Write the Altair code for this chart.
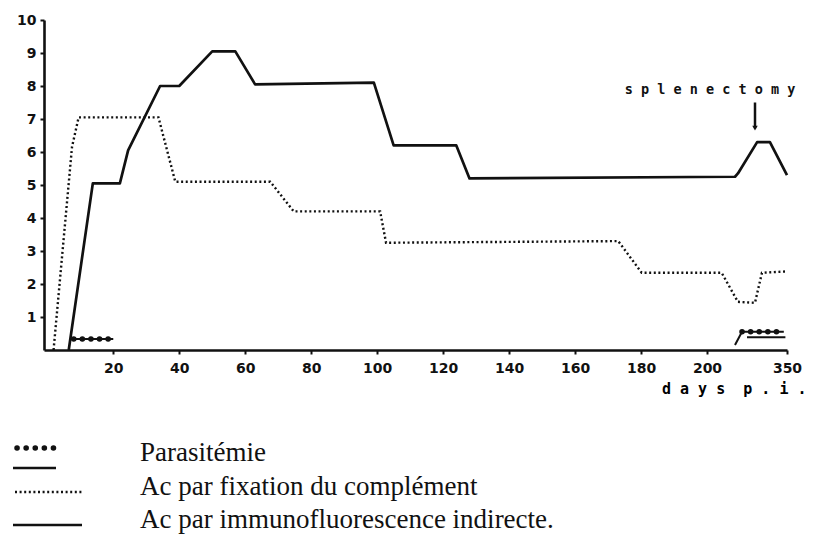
import altair as alt
import pandas as pd

# ---- data ----
if_days = [6.5, 13.8, 22, 24.5, 34.2, 40, 50, 57, 63, 99, 105, 124, 128, 252.5, 258, 294, 318, 350]
if_vals = [0, 5.05, 5.05, 6.05, 8.0, 8.0, 9.05, 9.05, 8.05, 8.1, 6.2, 6.2, 5.2, 5.25, 5.35, 6.3, 6.3, 5.3]

cf_days = [1.9, 7.5, 9.5, 33.7, 38.8, 67.6, 74.7, 100.9, 102.7, 173.1, 180.2, 227.5, 258, 290, 303, 350]
cf_vals = [0, 6.16, 7.05, 7.05, 5.1, 5.1, 4.2, 4.2, 3.25, 3.3, 2.34, 2.34, 1.46, 1.43, 2.34, 2.38]

para1_days = [8, 20]
para1_vals = [0.33, 0.33]
para2_days = [252.5, 265.6, 344]
para2_vals = [0.15, 0.55, 0.55]
para_under_days = [275, 347]
para_under_vals = [0.39, 0.39]

x_ticks = [20, 40, 60, 80, 100, 120, 140, 160, 180, 200, 350]
y_ticks = [1, 2, 3, 4, 5, 6, 7, 8, 9, 10]

splenectomy_day = 290
splenectomy_arrow = [7.5, 6.72]

legend_labels = ["Parasitémie", "Ac par fixation du complément", "Ac par immunofluorescence indirecte."]

# ---- tables ----
df_if = pd.DataFrame({"day": if_days, "value": if_vals})
df_cf = pd.DataFrame({"day": cf_days, "value": cf_vals})
df_para = pd.concat([
    pd.DataFrame({"day": para1_days, "value": para1_vals, "seg": "a"}),
    pd.DataFrame({"day": para2_days, "value": para2_vals, "seg": "b"}),
    pd.DataFrame({"day": para_under_days, "value": para_under_vals, "seg": "c"}),
])
df_beads = pd.concat([
    pd.DataFrame({"day": para1_days, "value": para1_vals, "seg": "a"}),
    pd.DataFrame({"day": para2_days[1:], "value": para2_vals[1:], "seg": "b"}),
])
df_splen = pd.DataFrame({"day": [splenectomy_day], "value": [splenectomy_arrow[0]],
                         "tip": [splenectomy_arrow[1]], "label": ["s p l e n e c t o m y"]})
df_tip = pd.DataFrame({"day": [splenectomy_day], "value": [splenectomy_arrow[1]]})

W, H = 745, 330
xscale = alt.Scale(domain=[-1, 200, 350], range=[0, 663, 743], nice=False, zero=False)
yscale = alt.Scale(domain=[0, 10], nice=False, zero=False)

X = alt.X("day:Q", scale=xscale,
          axis=alt.Axis(values=x_ticks, format="d", tickSize=4, labelPadding=7,
                        labelFlush=False, labelOverlap=False,
                        title="d a y s \u00a0p . i .", titleX=762, titleY=38,
                        titleAlign="right", titleBaseline="middle",
                        titleFont="DejaVu Sans Mono", titleFontSize=15,
                        titleFontWeight="bold", titleColor="black"))
Y = alt.Y("value:Q", scale=yscale,
          axis=alt.Axis(values=y_ticks, format="d", tickSize=4, labelPadding=4,
                        labelOverlap=False, labelFlush=False, title=None))

ink = "#111111"

solid = alt.Chart(df_if).mark_line(color=ink, strokeWidth=2.7, strokeJoin="round").encode(x=X, y=Y)
dotted = alt.Chart(df_cf).mark_line(color=ink, strokeWidth=2.4, strokeDash=[2, 2.6]).encode(x=X, y=Y)
para_line = alt.Chart(df_para).mark_line(color=ink, strokeWidth=2).encode(x=X, y=Y, detail="seg:N")
para_beads = alt.Chart(df_beads).mark_line(color=ink, strokeWidth=5.5, strokeDash=[0.1, 8.5],
                                           strokeCap="round").encode(x=X, y=Y, detail="seg:N")

arrow = alt.Chart(df_splen).mark_rule(color=ink, strokeWidth=2.5).encode(x=X, y=Y, y2="tip:Q")
arrow_head = alt.Chart(df_tip).mark_point(shape="triangle-down", filled=True, color=ink,
                                          size=30, opacity=1).encode(x=X, y=Y)
splen_text = alt.Chart(df_splen).mark_text(font="DejaVu Sans Mono", fontWeight="bold",
                                           fontSize=13.5, color=ink, dx=-45, dy=-13,
                                           align="center", baseline="middle").encode(
    x=X, y=Y, text="label:N")

# ---- manual legend below the plot ----
legend_layers = []
lx_text = 96
rows_y = [441, 475, 508]
legend_layers.append(alt.Chart(df_splen).mark_rule(color=ink, strokeWidth=5.5, strokeDash=[0.1, 9],
                                                   strokeCap="round").encode(
    x=alt.value(-27), x2=alt.value(16), y=alt.value(428)))
legend_layers.append(alt.Chart(df_splen).mark_rule(color=ink, strokeWidth=2.5).encode(
    x=alt.value(-31), x2=alt.value(12), y=alt.value(448)))
legend_layers.append(alt.Chart(df_splen).mark_rule(color=ink, strokeWidth=2.4, strokeDash=[2, 2.6]).encode(
    x=alt.value(-29), x2=alt.value(38), y=alt.value(472)))
legend_layers.append(alt.Chart(df_splen).mark_rule(color=ink, strokeWidth=2.7).encode(
    x=alt.value(-31), x2=alt.value(38), y=alt.value(505)))
for lab, yy in zip(legend_labels, rows_y):
    legend_layers.append(alt.Chart(df_splen).mark_text(font="Liberation Serif", fontSize=27, color=ink,
                                                       align="left", baseline="alphabetic").encode(
        x=alt.value(lx_text), y=alt.value(yy), text=alt.value(lab)))

chart = alt.layer(dotted, solid, para_line, para_beads, arrow, arrow_head, splen_text,
                  *legend_layers).properties(
    width=W, height=H,
    autosize=alt.AutoSizeParams(type="none"),
    padding={"left": 36, "top": 12, "right": 17, "bottom": 185},
    background="white",
).configure_view(stroke=None).configure_axis(
    grid=False, domainColor=ink, domainWidth=2.6, tickColor=ink, tickWidth=2,
    labelFont="DejaVu Sans", labelFontWeight="bold", labelFontSize=14, labelColor=ink,
    labelOverlap=False,
)

chart.save("out.html", embed_options={"renderer": "svg", "actions": False})
